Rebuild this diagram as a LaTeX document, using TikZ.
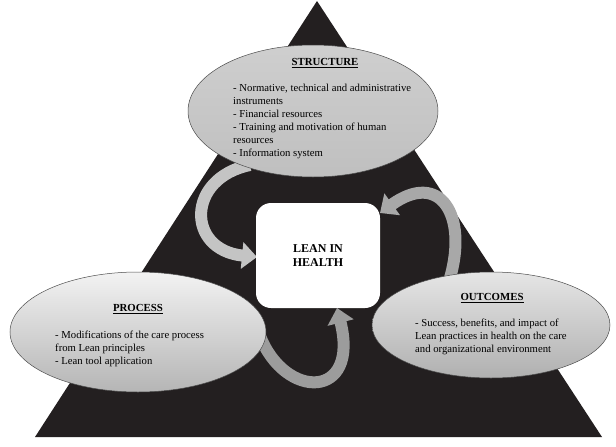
\documentclass[tikz,border=0pt]{standalone}
\usepackage{fontspec}
\setmainfont{Liberation Serif}
\usetikzlibrary{shapes.geometric,arrows.meta}
\definecolor{tri}{HTML}{231F20}
\definecolor{arrowA}{HTML}{C4C4C4}
\definecolor{arrowB}{HTML}{A8A8A8}
\definecolor{arrowC}{HTML}{9C9C9C}
\begin{document}
\begin{tikzpicture}[x=1pt,y=-1pt,
  oval/.style={ellipse, draw=gray!60!black, line width=0.5pt, inner sep=0pt},
  bodytext/.style={anchor=base west, align=left, inner sep=0pt, font=\fontsize{10.7}{13}\selectfont},
  headtext/.style={anchor=base, inner sep=0pt, font=\fontsize{10.8}{13}\selectfont\bfseries},
  blockarrow/.style={line width=12pt, -{Triangle[width=26pt,length=15pt]}},
]
\useasboundingbox (0,0) rectangle (616,447);
\fill[tri] (35,437) -- (602,437) -- (317,1) -- cycle;

% arrow end points
\coordinate (a1s) at (250,165);
\coordinate (a1e) at (257,257);
\coordinate (a2s) at (450,278);
\coordinate (a2e) at (380,213);
\coordinate (a3s) at (260,336);
\coordinate (a3e) at (337,308);

\draw[blockarrow, arrowA] (a1s) .. controls (186,178) and (186,250) .. (a1e);
\draw[blockarrow, arrowB] (a2s) .. controls (468,215) and (440,170) .. (a2e);
\draw[blockarrow, arrowC] (a3s) .. controls (285,400) and (360,400) .. (a3e);

\node[oval, minimum width=250pt, minimum height=132pt, top color=gray!38, middle color=gray!12, bottom color=gray!50] (struct) at (313,111) {};
\node[oval, minimum width=256pt, minimum height=120pt, top color=gray!10, bottom color=gray!58] (process) at (138,332) {};
\node[oval, minimum width=238pt, minimum height=106pt, top color=gray!20, middle color=gray!22, bottom color=gray!62] (outcomes) at (491,325) {};

\node[fill=white, rounded corners=15pt, minimum width=124pt, minimum height=105pt, align=center, inner sep=0pt, font=\fontsize{12}{14}\selectfont\bfseries] (lean) at (318,255.5) {LEAN IN\\HEALTH};

\node[headtext] (structhead) at (325,65.5) {\underline{STRUCTURE}};
\node[bodytext] (structbody) at (233,156) {- Normative, technical and administrative\\instruments\\- Financial resources\\- Training and motivation of human\\resources\\- Information system};

\node[headtext] (processhead) at (138,311.5) {\underline{PROCESS}};
\node[bodytext] (processbody) at (55,364) {- Modifications of the care process\\from Lean principles\\- Lean tool application};

\node[headtext] (outcomeshead) at (492,300.5) {\underline{OUTCOMES}};
\node[bodytext] (outcomesbody) at (415,352) {- Success, benefits, and impact of\\Lean practices in health on the care\\and organizational environment};
\end{tikzpicture}
\end{document}
